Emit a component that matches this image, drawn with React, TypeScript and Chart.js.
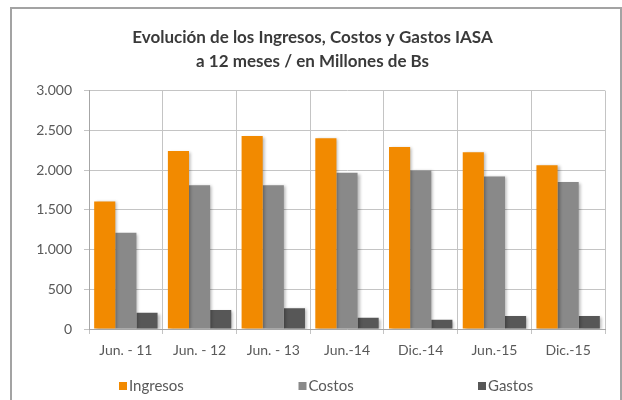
import React, { useEffect, useRef } from 'react';
import { Chart, registerables } from 'chart.js';

Chart.register(...registerables);

const categories = ['Jun. - 11', 'Jun. - 12', 'Jun. - 13', 'Jun.-14', 'Dic.-14', 'Jun.-15', 'Dic.-15'];
const ingresos = [1605, 2240, 2430, 2400, 2290, 2225, 2060];
const costos = [1210, 1810, 1810, 1965, 1995, 1920, 1850];
const gastos = [205, 240, 260, 140, 115, 165, 165];
const seriesNames = ['Ingresos', 'Costos', 'Gastos'];
const seriesColors = ['#F28A00', '#898989', '#575757'];
const titleLines = ['Evolución de los Ingresos, Costos y Gastos IASA', 'a 12 meses / en Millones de Bs'];
const yMin = 0;
const yMax = 3000;
const yStep = 500;

const formatThousands = (v: number) => String(v).replace(/\B(?=(\d{3})+(?!\d))/g, '.');

const shadowPlugin = {
  id: 'barShadow',
  beforeDatasetsDraw(chart: any) {
    const ctx = chart.ctx;
    ctx.save();
    ctx.shadowColor = 'rgba(0,0,0,0.28)';
    ctx.shadowBlur = 3;
    ctx.shadowOffsetX = 2;
    ctx.shadowOffsetY = 1;
  },
  afterDatasetsDraw(chart: any) {
    chart.ctx.restore();
  },
};

const legendPlugin = {
  id: 'excelLegend',
  afterDraw(chart: any) {
    const ctx = chart.ctx;
    const left = chart.chartArea.left;
    const y = 386;
    ctx.save();
    ctx.font = '15px Lato';
    ctx.textBaseline = 'middle';
    ctx.textAlign = 'left';
    chart.data.datasets.forEach((ds: any, i: number) => {
      const x = left + 30 + i * 179.5;
      ctx.fillStyle = ds.backgroundColor;
      ctx.fillRect(x, y - 4, 8, 8);
      ctx.fillStyle = '#595959';
      ctx.fillText(ds.label, x + 10, y);
    });
    ctx.restore();
  },
};

export default function App() {
  const canvasRef = useRef<HTMLCanvasElement | null>(null);

  useEffect(() => {
    const canvas = canvasRef.current;
    if (!canvas) return;
    const seriesData = [ingresos, costos, gastos];
    const chart = new Chart(canvas, {
      type: 'bar',
      data: {
        labels: categories,
        datasets: seriesNames.map((name, i) => ({
          label: name,
          data: seriesData[i],
          backgroundColor: seriesColors[i],
          borderWidth: 0,
          categoryPercentage: 0.86,
          barPercentage: 1.0,
        })),
      },
      options: {
        responsive: false,
        animation: false,
        devicePixelRatio: 1,
        layout: { padding: { left: 20, right: 17, top: 0, bottom: 40 } },
        plugins: {
          legend: { display: false },
          tooltip: { enabled: false },
          title: {
            display: true,
            text: titleLines,
            color: '#3a3a3a',
            font: { family: 'Lato', size: 17, weight: 'bold', lineHeight: 1.4 },
            padding: { top: 26, bottom: 17 },
          },
        },
        scales: {
          x: {
            grid: { color: '#c4c4c4', tickLength: 5, offset: true },
            border: { color: '#a6a6a6' },
            ticks: { color: '#595959', font: { family: 'Lato', size: 14 }, padding: 8, maxRotation: 0 },
            afterFit(scale: any) {
              scale.height = 31;
            },
          },
          y: {
            min: yMin,
            max: yMax,
            grid: { color: '#c4c4c4', tickLength: 5 },
            border: { color: '#a6a6a6' },
            ticks: {
              stepSize: yStep,
              color: '#595959',
              font: { family: 'Lato', size: 14 },
              padding: 12,
              callback: (v: any) => formatThousands(Number(v)),
            },
            afterFit(scale: any) {
              scale.width = 69;
            },
          },
        },
      },
      plugins: [shadowPlugin, legendPlugin],
    });
    return () => chart.destroy();
  }, []);

  return (
    <div style={{ position: 'absolute', left: 0, top: 0, width: 622, height: 400, overflow: 'hidden', background: '#fff' }}>
      <div
        style={{
          position: 'absolute',
          left: 10,
          top: 7,
          width: 612,
          height: 410,
          boxSizing: 'border-box',
          border: '2px solid #a3a3a3',
        }}
      />
      <canvas ref={canvasRef} width={622} height={400} style={{ position: 'absolute', left: 0, top: 0 }} />
    </div>
  );
}
